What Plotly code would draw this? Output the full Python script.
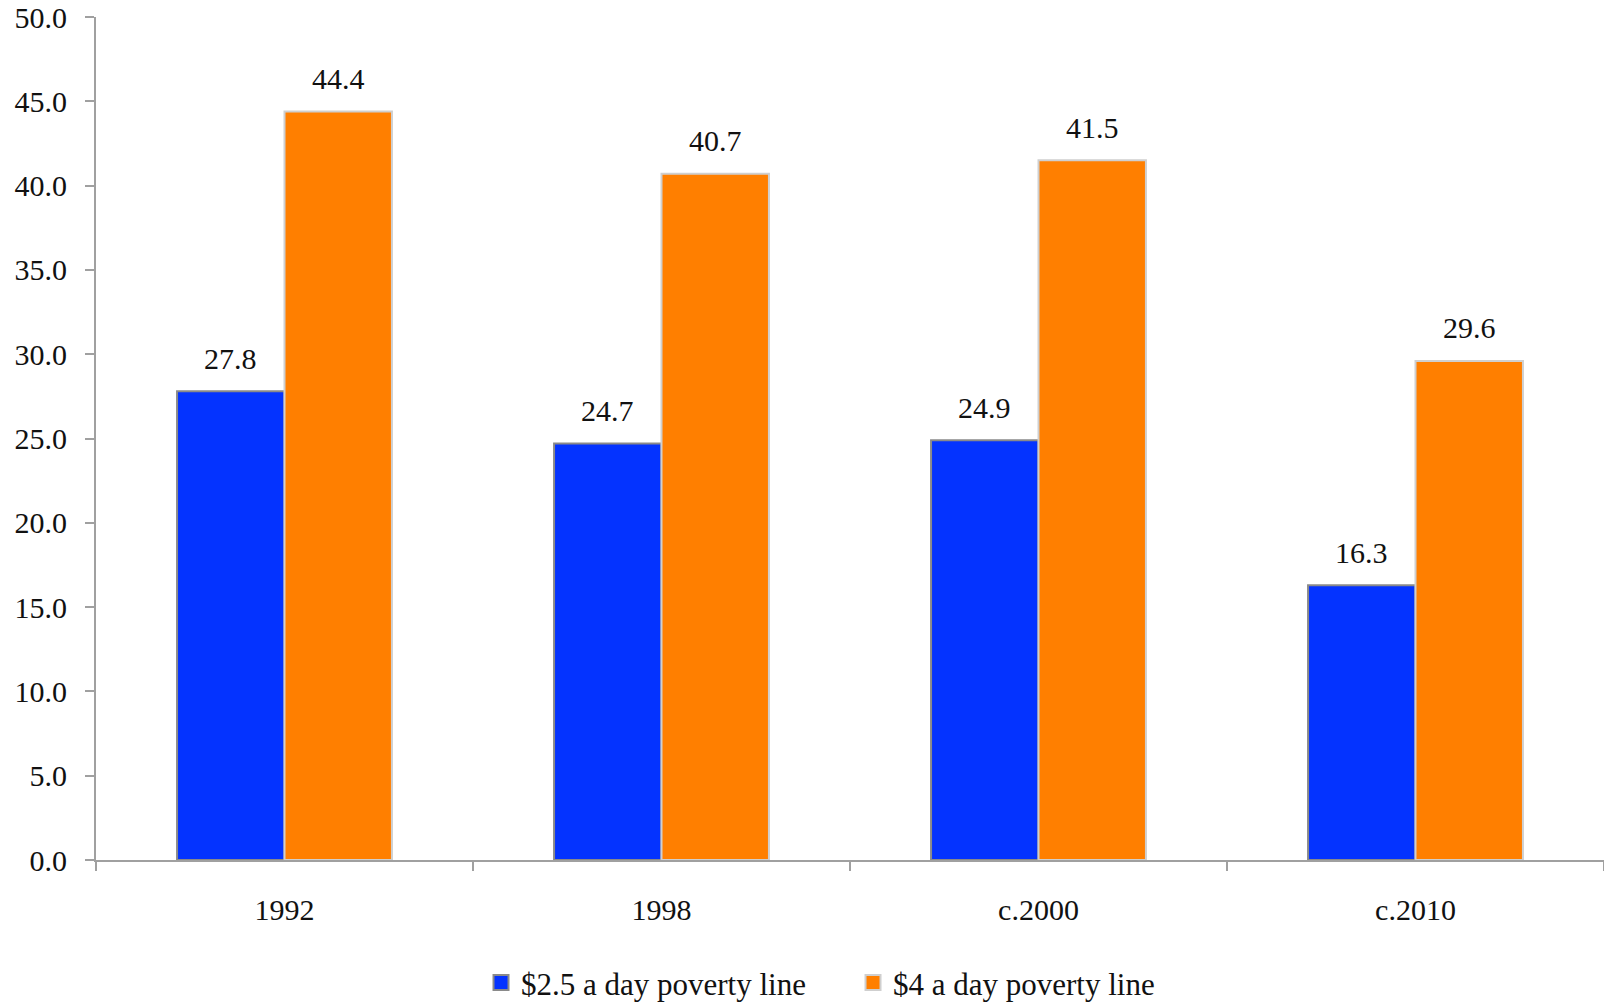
import plotly.graph_objects as go

categories = ["1992", "1998", "c.2000", "c.2010"]
line_25 = [27.8, 24.7, 24.9, 16.3]
line_4 = [44.4, 40.7, 41.5, 29.6]
series_names = ["$2.5 a day poverty line", "$4 a day poverty line"]
y_ticks = [0, 5, 10, 15, 20, 25, 30, 35, 40, 45, 50]

FONT = "Liberation Serif"
FS = 30

W, H = 1604, 1003
ML, MR, MT, MB = 96, 0, 17, 143
BARGAP = 0.43

colors = ["#0433FF", "#FF7F00"]
outlines = ["#8a8a8a", "#cfcfcf"]

fig = go.Figure()
for vals, name, col, oc in zip((line_25, line_4), series_names, colors, outlines):
    fig.add_trace(go.Bar(
        x=categories, y=vals, name=name, showlegend=False,
        marker=dict(color=col, line=dict(color=oc, width=2)),
    ))
# legend entries with larger square swatches
for name, col, oc in zip(series_names, colors, outlines):
    fig.add_trace(go.Scatter(
        x=[None], y=[None], mode="markers", name=name,
        marker=dict(symbol="square", size=15, color=col, line=dict(color=oc, width=2)),
    ))

# value labels above each bar (x given as category index)
cat_px = (W - ML - MR) / len(categories)
bar_px = cat_px * (1 - BARGAP) / 2
for series, shift in ((line_25, -bar_px / 2), (line_4, bar_px / 2)):
    for i, v in enumerate(series):
        fig.add_annotation(x=i, y=v, text=f"{v:.1f}", showarrow=False,
                           xshift=shift, yshift=33, yanchor="middle",
                           font=dict(family=FONT, size=FS, color="#111"))

fig.update_layout(
    width=W, height=H,
    margin=dict(l=ML, r=MR, t=MT, b=MB, autoexpand=False),
    paper_bgcolor="white", plot_bgcolor="white",
    barmode="group", bargap=BARGAP, bargroupgap=0.0,
    font=dict(family=FONT, size=FS, color="#111"),
    showlegend=True,
    legend=dict(orientation="h", x=0.502, xanchor="center",
                yref="container", y=0.02, yanchor="middle",
                font=dict(family=FONT, size=31), itemwidth=30, traceorder="normal",
                tracegroupgap=0, entrywidth=327, entrywidthmode="pixels"),
)
fig.update_xaxes(
    type="category", categoryorder="array", categoryarray=categories,
    range=[-0.5, len(categories) - 0.5],
    showline=True, linecolor="#a0a0a0", linewidth=2,
    ticks="outside", tickson="boundaries", ticklen=9, tickcolor="#a0a0a0", tickwidth=2,
    showgrid=False, tickfont=dict(family=FONT, size=FS), ticklabelstandoff=22,
    automargin=False,
)
fig.update_yaxes(
    range=[0, 50], tickvals=y_ticks, ticktext=[f"{v:.1f}" for v in y_ticks],
    showline=True, linecolor="#a0a0a0", linewidth=2,
    ticks="outside", ticklen=9, tickcolor="#a0a0a0", tickwidth=2,
    showgrid=False, zeroline=False, tickfont=dict(family=FONT, size=FS),
    ticklabelstandoff=12, automargin=False,
)

fig.write_html("out.html")
